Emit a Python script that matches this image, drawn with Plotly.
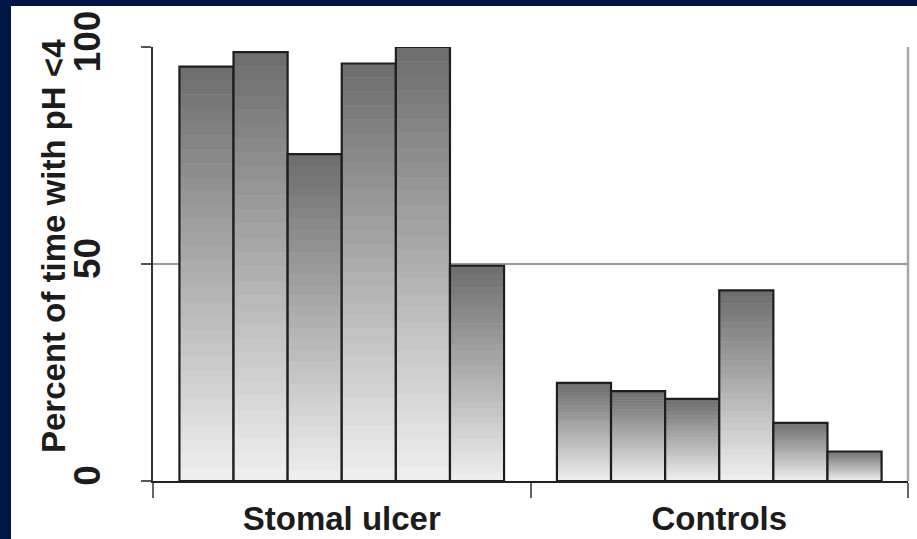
import plotly.graph_objects as go

# ---- data ----
groups = ["Stomal ulcer", "Controls"]
stomal_ulcer = [95.5, 98.8, 75.3, 96.2, 100.0, 49.6]
controls = [22.6, 20.7, 18.9, 43.9, 13.4, 6.8]
y_ticks = [0, 50, 100]
y_title = "Percent of time with pH <4"

NAVY = "#011645"
FONT = "Liberation Sans, Arial, Helvetica, sans-serif"
N_SEG = 30
LIGHT, DARK = 240, 108

fig = go.Figure()

for i in range(len(stomal_ulcer)):
    vals = [stomal_ulcer[i], controls[i]]
    # gradient: stack of thin segments (light at bottom, dark at top)
    for k in range(N_SEG):
        t = (k + 0.5) / N_SEG
        g = int(round(LIGHT - t * (LIGHT - DARK)))
        col = f"rgb({g},{g},{g})"
        fig.add_trace(go.Bar(
            x=groups,
            y=[v / N_SEG for v in vals],
            base=[v * k / N_SEG for v in vals],
            offsetgroup=str(i),
            marker=dict(color=col, line=dict(color=col, width=0.6)),
            showlegend=False, hoverinfo="skip",
        ))
    # outline
    fig.add_trace(go.Bar(
        x=groups, y=vals, base=[0, 0],
        offsetgroup=str(i),
        marker=dict(color="rgba(0,0,0,0)", line=dict(color="#1e1e1e", width=2.2)),
        showlegend=False,
    ))

fig.update_layout(
    width=917, height=539,
    barmode="group", bargap=0.14, bargroupgap=0,
    paper_bgcolor=NAVY, plot_bgcolor="white",
    margin=dict(l=153, r=9, t=47, b=58),
    font=dict(family=FONT, color="#1c1c1c"),
    xaxis=dict(
        type="category", range=[-0.5, 1.5], tickson="boundaries",
        ticks="outside", ticklen=15, tickwidth=1.5, tickcolor="#666",
        showgrid=False, showline=True, linecolor="#222", linewidth=2,
        tickfont=dict(size=33, family=FONT, weight="bold", color="#1c1c1c"),
        ticklabelstandoff=7,
        automargin=False, fixedrange=True,
    ),
    yaxis=dict(
        range=[0, 100], tickvals=y_ticks, tickangle=-90,
        ticks="outside", ticklen=10, tickwidth=1.5, tickcolor="#555",
        showgrid=True, gridcolor="#9a9a9a", gridwidth=2,
        zeroline=False, showline=True, linecolor="#333", linewidth=1.5,
        tickfont=dict(size=37, family=FONT, weight="bold", color="#1c1c1c"),
        ticklabelstandoff=26,
        automargin=False, fixedrange=True,
    ),
    annotations=[dict(
        text=y_title, textangle=-90, showarrow=False,
        xref="paper", yref="paper", x=(54 - 153) / 755, y=(481 - 246) / 434,
        xanchor="center", yanchor="middle",
        font=dict(size=33, family=FONT, weight="bold", color="#1c1c1c"),
    )],
    shapes=[
        # white slide panel on navy background
        dict(type="rect", xref="paper", yref="paper",
             x0=(11 - 153) / 755, x1=1 + 20 / 755, y0=-70 / 434, y1=(481 - 6) / 434,
             fillcolor="white", line=dict(width=0), layer="below"),
        # right frame line
        dict(type="line", xref="paper", yref="paper", x0=1, x1=1, y0=0, y1=1,
             line=dict(color="#a8a8a8", width=2.5), layer="below"),
    ],
)

fig.write_html(
    "out.html",
    config={"displayModeBar": False},
    post_script=(
        "document.documentElement.style.background='#ffffff';"
        "document.body.style.background='#ffffff';"
        "document.body.style.margin='0';document.body.style.overflow='hidden';"
    ),
)
